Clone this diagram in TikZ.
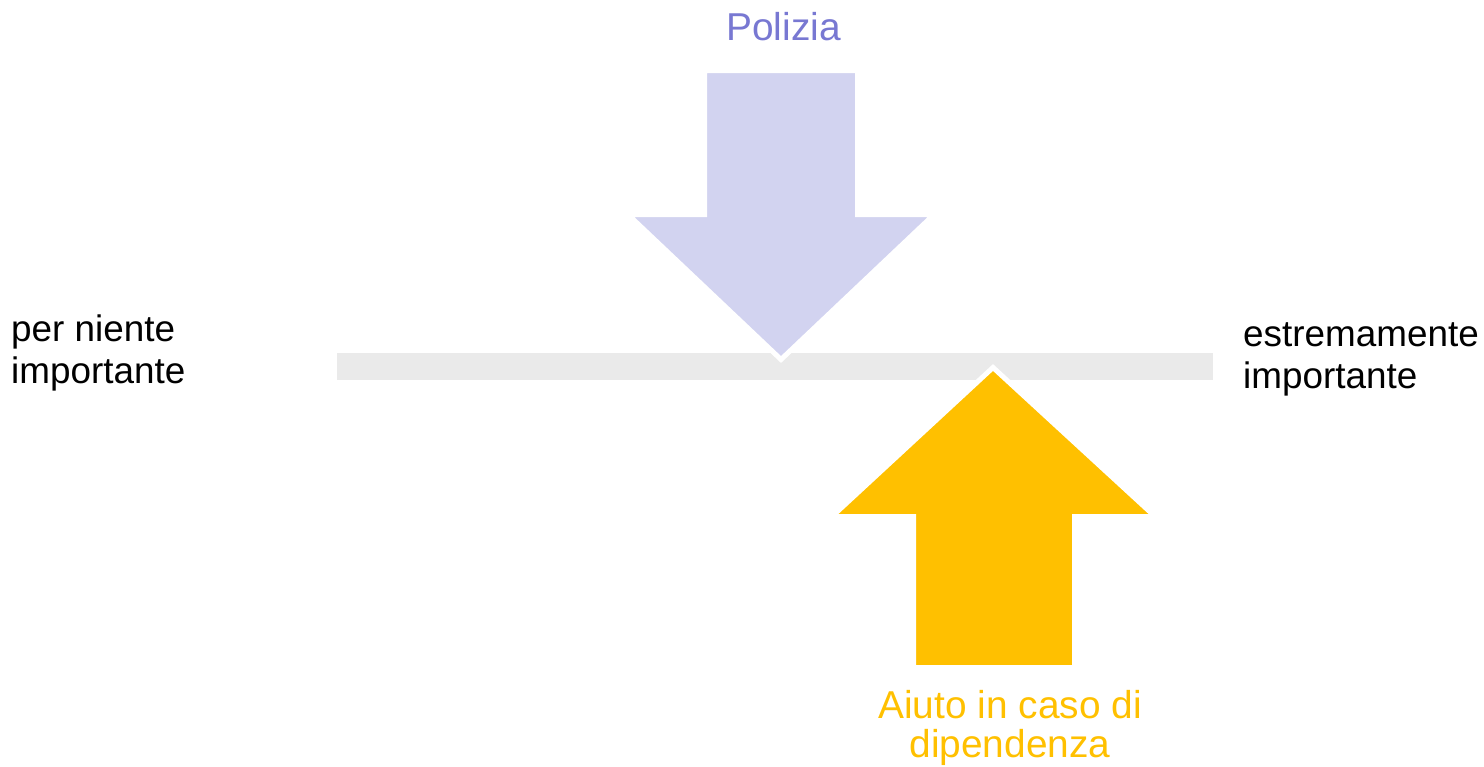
\documentclass[tikz,border=0pt]{standalone}
\usepackage{fontspec}
\setmainfont{Liberation Sans}
\definecolor{bargray}{HTML}{EAEAEA}
\definecolor{polfill}{HTML}{D2D3F0}
\definecolor{poltext}{HTML}{7878D2}
\definecolor{helpyel}{HTML}{FFC000}
\begin{document}
\begin{tikzpicture}[x=1bp,y=-1bp,
  lbl/.style={inner sep=0pt,font=\fontsize{37}{42}\selectfont},
  clbl/.style={inner sep=0pt,font=\fontsize{39}{40}\selectfont},
  arrowshape/.style={draw=white,line width=5bp,line join=miter}]
\useasboundingbox (0,0) rectangle (1484,766);
% scale bar
\fill[bargray] (337,353) rectangle (1213,380);
% Polizia arrow (down)
\filldraw[arrowshape,fill=polfill]
  (704.5,70.5) -- (857.5,70.5) -- (857.5,214.5) -- (934,214.5)
  -- (781,359.5) -- (628,214.5) -- (704.5,214.5) -- cycle;
% Aiuto arrow (up)
\filldraw[arrowshape,fill=helpyel]
  (913.5,667.5) -- (1074.5,667.5) -- (1074.5,516.5) -- (1155,516.5)
  -- (993,367.5) -- (832,516.5) -- (913.5,516.5) -- cycle;
% labels
\node[clbl,text=poltext,anchor=base] (pol) at (783.5,41) {Polizia};
\node[clbl,text=helpyel,align=center,anchor=center] (help) at (1010,728) {Aiuto in caso di\\dipendenza};
\node[lbl,align=left,anchor=west] (low) at (11,353) {per niente\\importante};
\node[lbl,align=left,anchor=west] (high) at (1243,359) {estremamente\\importante};
\end{tikzpicture}
\end{document}
